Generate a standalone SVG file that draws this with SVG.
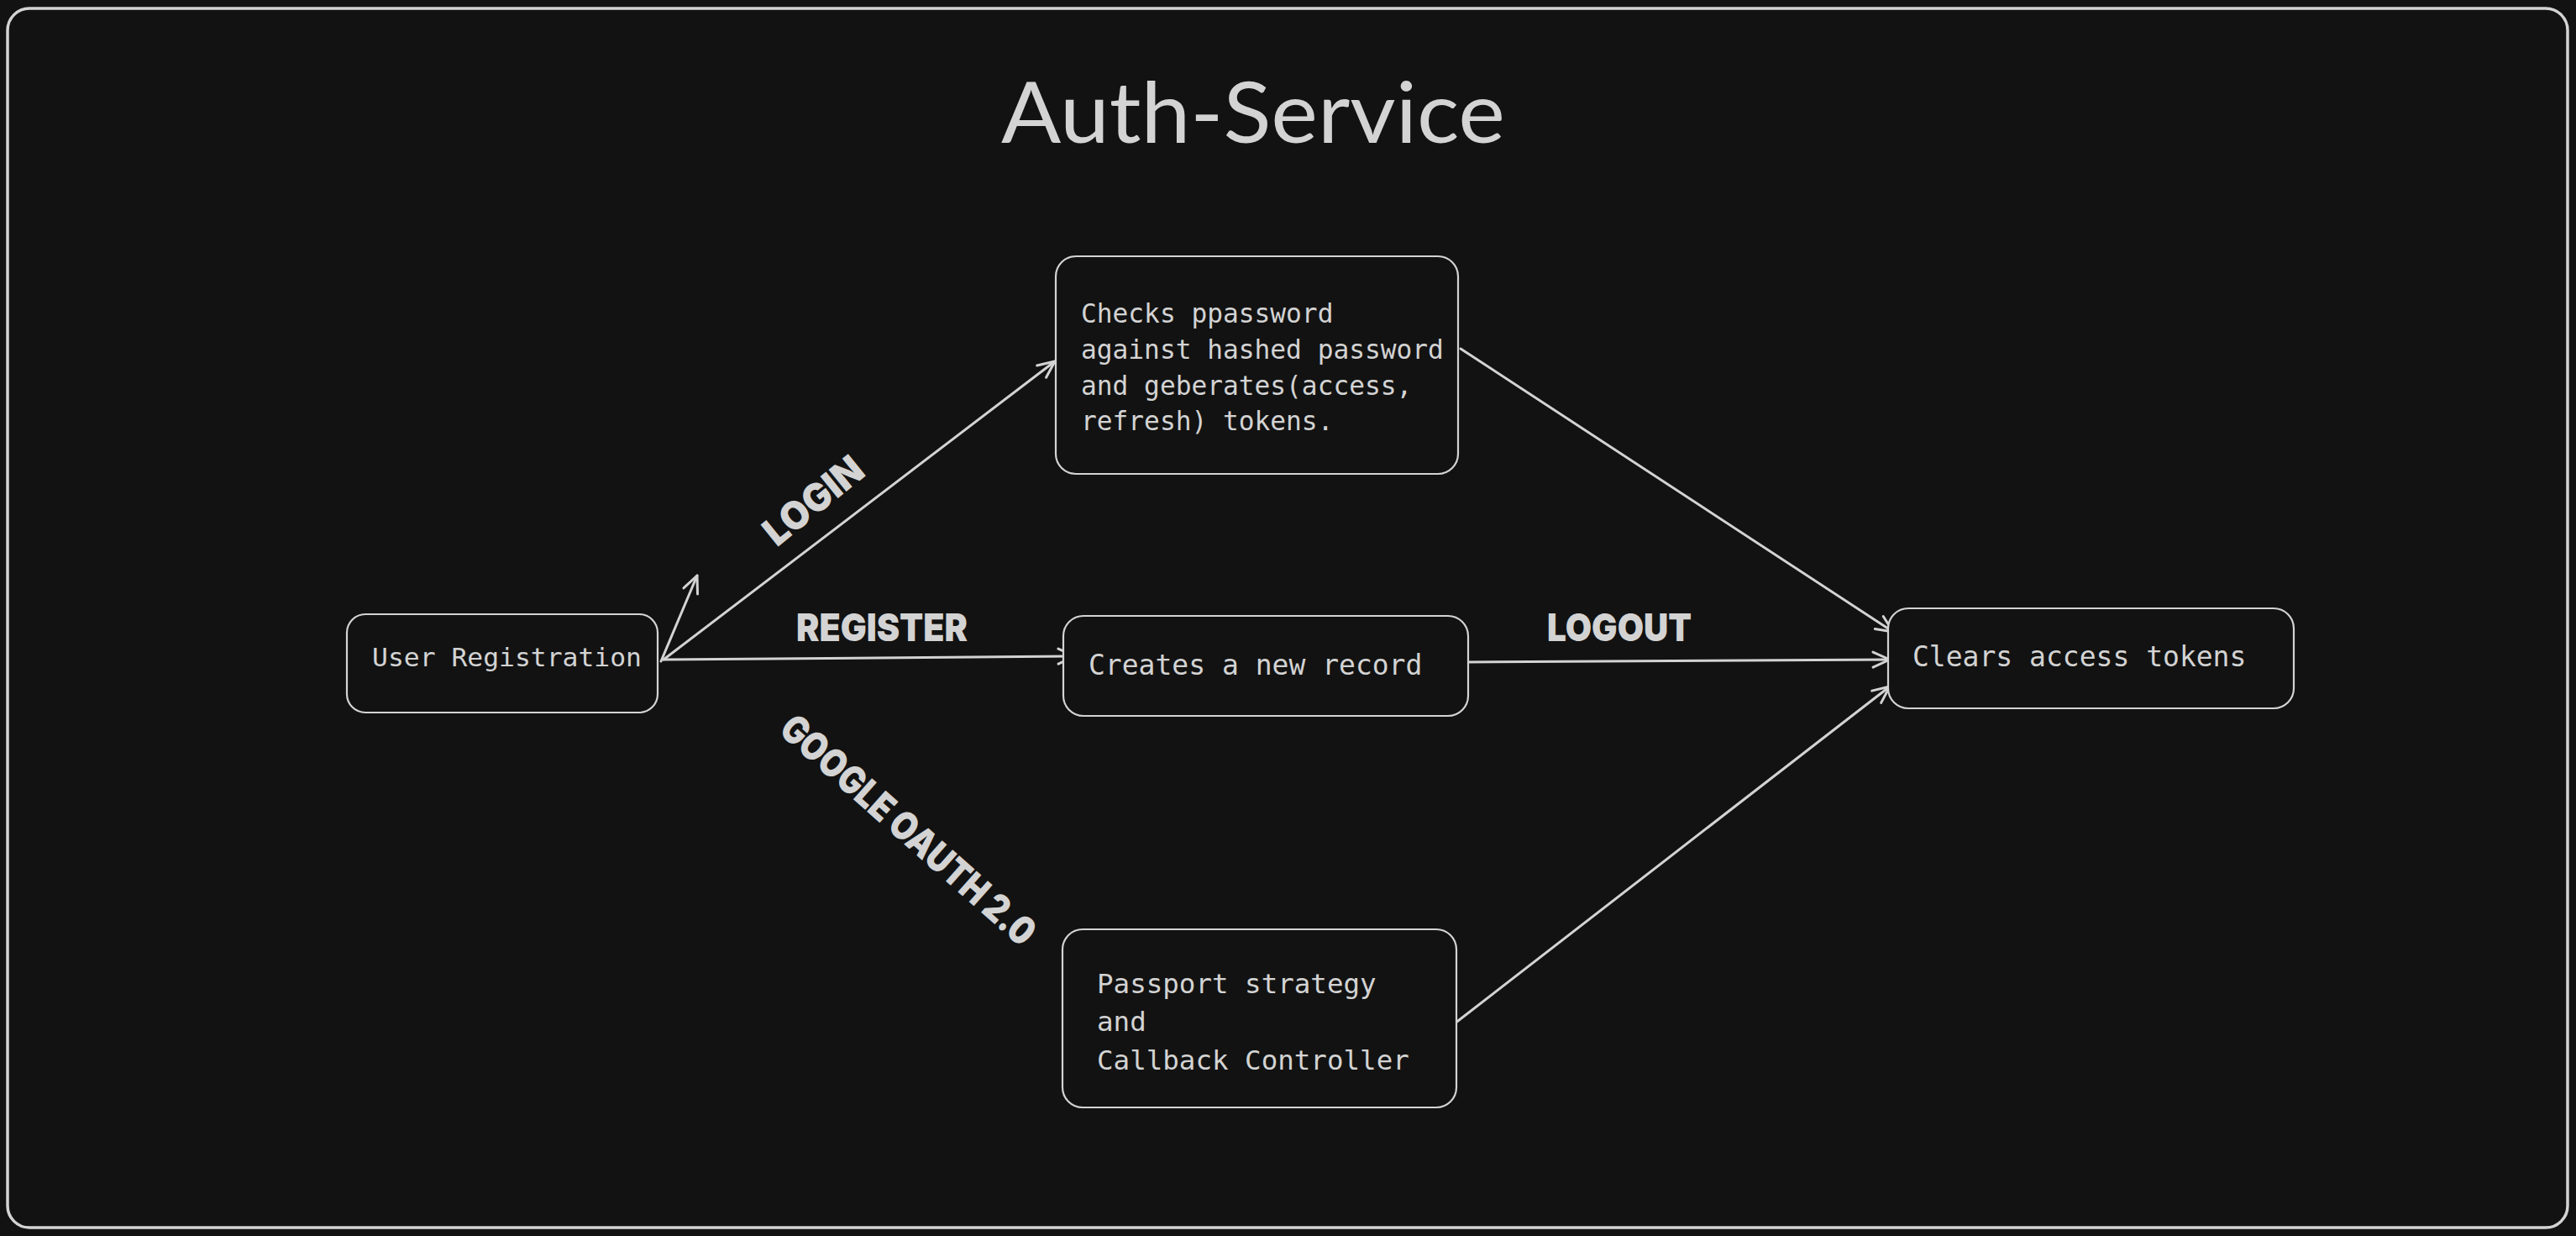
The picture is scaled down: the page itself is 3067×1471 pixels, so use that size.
<svg xmlns="http://www.w3.org/2000/svg" width="3067" height="1471" viewBox="0 0 3067 1471">
<defs>
<style>
.bg{fill:#121212}
.frame{fill:none;stroke:#d3d3d3;stroke-width:3.5}
.box{fill:#121212;stroke:#d3d3d3;stroke-width:2.2}
.mono{font-family:"DejaVu Sans Mono","Liberation Mono",monospace;fill:#d3d3d3}
.lbl{font-family:Inter,Roboto,"Noto Sans",sans-serif;font-weight:900;fill:#d3d3d3;font-size:46px}
.title{font-family:Lato,"Noto Sans","Open Sans",sans-serif;fill:#d3d3d3;font-size:100px}
.edge{fill:none;stroke:#d3d3d3;stroke-width:3;stroke-linecap:round}
</style>
<marker id="ah" markerUnits="userSpaceOnUse" markerWidth="40" markerHeight="40" viewBox="-30 -20 40 40" refX="0" refY="0" orient="auto">
<path d="M-20,-9 L0,0 L-20,9" fill="none" stroke="#d3d3d3" stroke-width="3" stroke-linecap="round" stroke-linejoin="round"/>
</marker>
</defs>
<rect class="bg" x="0" y="0" width="3067" height="1471"/>
<g id="frame">
<rect class="frame" x="9" y="10" width="3048" height="1451" rx="26"/>
</g>
<g id="title">
<text class="title" x="1192" y="170" textLength="600" lengthAdjust="spacingAndGlyphs">Auth-Service</text>
</g>
<g id="connectors">
<path class="edge" d="M790,785 L1256,430" marker-end="url(#ah)"/>
<path class="edge" d="M787,787 L830,685" marker-end="url(#ah)"/>
<path class="edge" d="M790,785 L1280,781" marker-end="url(#ah)"/>
<path class="edge" d="M1739,415 L2254,752" marker-end="url(#ah)"/>
<path class="edge" d="M1746,788 L2250,785" marker-end="url(#ah)"/>
<path class="edge" d="M1732,1218 L2250,817" marker-end="url(#ah)"/>
</g>
<g id="labels">
<text class="lbl" x="948" y="763" textLength="204" lengthAdjust="spacingAndGlyphs">REGISTER</text>
<text class="lbl" x="1842" y="763" textLength="172" lengthAdjust="spacingAndGlyphs">LOGOUT</text>
<text class="lbl" x="968" y="612" text-anchor="middle" textLength="138" lengthAdjust="spacingAndGlyphs" transform="rotate(-39 968 595)">LOGIN</text>
<text class="lbl" x="1082" y="1004" text-anchor="middle" textLength="388" lengthAdjust="spacingAndGlyphs" transform="rotate(41.5 1082 987)">GOOGLE OAUTH 2.0</text>
</g>
<g id="user-registration">
<rect class="box" x="413" y="731" width="370" height="117" rx="22"/>
<text class="mono" x="443" y="793" font-size="31" textLength="321" lengthAdjust="spacingAndGlyphs">User Registration</text>
</g>
<g id="checks-password">
<rect class="box" x="1257" y="305" width="479" height="259" rx="24"/>
<text class="mono" font-size="31.2">
<tspan x="1287" y="384">Checks ppassword</tspan>
<tspan x="1287" y="427">against hashed password</tspan>
<tspan x="1287" y="470">and geberates(access,</tspan>
<tspan x="1287" y="512">refresh) tokens.</tspan>
</text>
</g>
<g id="creates-record">
<rect class="box" x="1266" y="733" width="482" height="119" rx="24"/>
<text class="mono" x="1296" y="803" font-size="33">Creates a new record</text>
</g>
<g id="passport">
<rect class="box" x="1265" y="1106" width="469" height="212" rx="24"/>
<text class="mono" font-size="32.5">
<tspan x="1306" y="1182">Passport strategy</tspan>
<tspan x="1306" y="1227">and</tspan>
<tspan x="1306" y="1273">Callback Controller</tspan>
</text>
</g>
<g id="clears-tokens">
<rect class="box" x="2248" y="724" width="483" height="119" rx="24"/>
<text class="mono" x="2277" y="793" font-size="33">Clears access tokens</text>
</g>
</svg>
